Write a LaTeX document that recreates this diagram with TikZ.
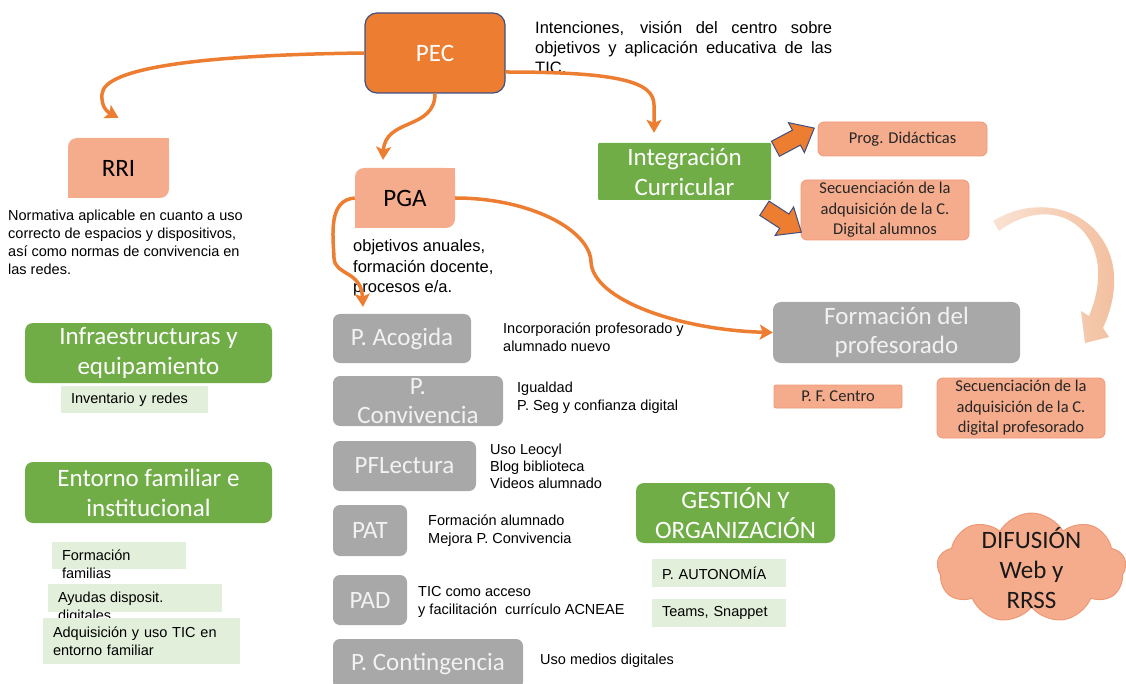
\documentclass[tikz,border=0pt]{standalone}
\usepackage{fontspec}
\setmainfont{Liberation Sans}
\newfontfamily\calib{Carlito}
\usetikzlibrary{arrows.meta,shapes.symbols,shapes.arrows,calc}
\definecolor{pecorange}{RGB}{237,125,49}
\definecolor{pecedge}{RGB}{62,80,130}
\definecolor{boxgreen}{RGB}{112,173,71}
\definecolor{lightgreen}{RGB}{226,239,218}
\definecolor{boxgray}{RGB}{168,168,168}
\definecolor{graytext}{RGB}{242,242,242}
\definecolor{salmon}{RGB}{245,172,140}
\definecolor{salmonedge}{RGB}{238,152,118}
\definecolor{peach}{RGB}{241,183,146}
\tikzstyle{pecbox} = [rounded corners=12pt, fill=pecorange, draw=pecedge, line width=1.2pt, text=white, font=\calib\fontsize{25}{30}\selectfont, minimum width=140pt, minimum height=80pt]
\tikzstyle{salbig} = [fill=salmon, rounded corners=9pt, font=\calib\fontsize{25}{30}\selectfont, minimum width=100pt, minimum height=60pt, inner sep=0pt]
\tikzstyle{salsmall} = [fill=salmon, draw=salmonedge, line width=0.8pt, rounded corners=6pt, font=\calib\fontsize{16.5}{20.5}\selectfont, text=black!85, align=center, inner sep=0pt]
\tikzstyle{greenbox} = [fill=boxgreen, rounded corners=8pt, text=white, font=\calib\fontsize{25}{30}\selectfont, align=center, inner sep=0pt]
\tikzstyle{graybox} = [fill=boxgray, rounded corners=7pt, text=graytext, font=\calib\fontsize{25}{29}\selectfont, align=center, inner sep=0pt]
\tikzstyle{lgbox} = [fill=lightgreen, font=\fontsize{14.5}{18}\selectfont, inner xsep=10pt, inner ysep=0pt, align=left]
\tikzstyle{note} = [font=\fontsize{14.5}{18}\selectfont, align=left, inner sep=0pt, anchor=west]
\tikzstyle{link} = [line width=3.5pt, draw=pecorange, -{Stealth[length=13pt,width=15pt,inset=3pt]}]
\tikzstyle{blockarrow} = [single arrow, fill=pecorange, draw=pecedge, line width=1pt, single arrow head extend=8.5pt, single arrow tip angle=80, minimum height=44pt, inner sep=0pt, anchor=tail]

\begin{document}
\begin{tikzpicture}[x=1pt,y=-1pt]
\useasboundingbox (0,0) rectangle (1126,684);
%
\node (pec) [pecbox] at (435,53) {PEC};
\node (pecnote) [note, text width=297pt, align=justify, font=\fontsize{16.5}{20}\selectfont] at (535,48) {Intenciones, visión del centro sobre\linebreak objetivos y aplicación educativa de las\linebreak TIC.};
%
\node (rri) [salbig, minimum width=101pt] at (118.5,168) {RRI};
\fill [salmon] (rri.north east) rectangle ++(-10pt,-10pt);
\fill [salmon] (rri.south west) rectangle ++(10pt,10pt);
\node (rrinote) [note] at (8,242.5) {Normativa aplicable en cuanto a uso\\correcto de espacios y dispositivos,\\así como normas de convivencia en\\las redes.};
\node (pga) [salbig] at (405,198) {PGA};
\fill [salmon] (pga.north east) rectangle ++(-10pt,-10pt);
\fill [salmon] (pga.south west) rectangle ++(10pt,10pt);
\node (pganote) [note, font=\fontsize{16.5}{20.5}\selectfont] at (353,268) {objetivos anuales,\\formación docente,\\procesos e/a.};
%
\node (integ) [greenbox, rounded corners=1pt, minimum width=173pt, minimum height=57pt] at (684.5,171.5) {Integración\\Curricular};
\node (prog) [salsmall, minimum width=169pt, minimum height=34pt] at (902.5,139) {Prog. Didácticas};
\node (seca) [salsmall, minimum width=168pt, minimum height=60pt] at (885,210) {Secuenciación de la\\adquisición de la C.\\Digital alumnos};
\node (ba1) [blockarrow, rotate=28] at (775,149) {\rule{0pt}{16pt}};
\node (ba2) [blockarrow, rotate=-33] at (764,208) {\rule{0pt}{16pt}};
%
\node (formp) [graybox, rounded corners=8pt, minimum width=247pt, minimum height=61pt] at (896.5,332.5) {Formación del\\profesorado};
\node (pfc) [salsmall, rounded corners=2pt, minimum width=128pt, minimum height=23pt] at (838,396.5) {P. F. Centro};
\node (secp) [salsmall, minimum width=168pt, minimum height=60pt] at (1021,408) {Secuenciación de la\\adquisición de la C.\\digital profesorado};
\shade [left color=peach!40, right color=peach] (993,221) .. controls (1060,180) and (1145,235) .. (1103,328) -- (1109,337) -- (1085,343) -- (1081,311) -- (1089,316) .. controls (1122,238) and (1060,186) .. (999,231) -- cycle;
%
\node (gestion) [greenbox, minimum width=199pt, minimum height=60pt] at (735.5,513) {GESTIÓN Y\\ORGANIZACIÓN};
\node (auton) [lgbox, text width=114pt, minimum height=28pt] at (719,573) {P. AUTONOMÍA};
\node (teams) [lgbox, text width=114pt, minimum height=28pt] at (719,613) {Teams, Snappet};
\node (difu) [cloud, cloud puffs=9, cloud puff arc=120, fill=salmon, draw=salmonedge, line width=1pt, minimum width=189pt, minimum height=110pt] at (1031.5,568) {};
\node (difutxt) [font=\calib\fontsize{25}{30}\selectfont, align=center, text=black!90] at (difu.center) {DIFUSIÓN\\Web y\\RRSS};
%
\node (infra) [greenbox, minimum width=247pt, minimum height=60pt] at (148.5,353) {Infraestructuras y\\equipamiento};
\node (inv) [lgbox, text width=127pt, minimum height=27pt] at (134.5,399.5) {Inventario y redes};
\node (entorno) [greenbox, minimum width=247pt, minimum height=61pt] at (148.5,492.5) {Entorno familiar e\\institucional};
\node (famb) [lgbox, minimum width=134pt, minimum height=27pt] at (119,555.5) {};
\node (famt) [note] at ([shift={(10pt,-9pt)}]famb.west) {Formación\\familias};
\node (ayub) [lgbox, minimum width=174pt, minimum height=28pt] at (135,598) {};
\node (ayut) [note] at ([shift={(10pt,-10pt)}]ayub.west) {Ayudas disposit.\\digitales};
\node (adq) [lgbox, text width=177pt, minimum height=46pt] at (141.5,641) {Adquisición y uso TIC en\\entorno familiar};
%
\node (acog) [graybox, minimum width=138pt, minimum height=49pt] at (402,338.5) {P. Acogida};
\node (conv) [graybox, minimum width=170pt, minimum height=50pt] at (418,401) {P.\\Convivencia};
\node (pfl) [graybox, minimum width=143pt, minimum height=50pt] at (404.5,466) {PFLectura};
\node (pat) [graybox, minimum width=74pt, minimum height=51pt] at (370,530.5) {PAT};
\node (pad) [graybox, minimum width=74pt, minimum height=50pt] at (370,600) {PAD};
\node (cont) [graybox, minimum width=190pt, minimum height=50pt] at (428,664) {P. Contingencia};
\node (acogtxt) [note] at (503,337) {Incorporación profesorado y\\alumnado nuevo};
\node (convtxt) [note] at (517,397.5) {Igualdad\\P. Seg y confianza digital};
\node (pfltxt) [note, font=\fontsize{14.5}{17}\selectfont] at (490,466.5) {Uso Leocyl\\Blog biblioteca\\Videos alumnado};
\node (pattxt) [note] at (428,530.5) {Formación alumnado\\Mejora P. Convivencia};
\node (padtxt) [note] at (418,601.5) {TIC como acceso\\y facilitación\ \ currículo ACNEAE};
\node (conttxt) [note] at (540,661) {Uso medios digitales};
%
\draw [link] (pec.west) .. controls (200,55) and (104,68) .. (102,94) .. controls (101,108) and (108,112) .. ([shift={(0pt,20pt)}]rri.north);
\draw [link] (pec.south) .. controls (435,130) and (385,118) .. ([shift={(-22pt,8pt)}]pga.north);
\draw [link] ([yshift=-19pt]pec.east) .. controls (620,72) and (654,82) .. (654,105) -- ([shift={(-30.5pt,10pt)}]integ.north);
\draw [link] (pga.east) .. controls (530,198) and (590,230) .. (591,262) .. controls (593,300) and (680,330) .. (formp.west);
\draw [link] (pga.west) .. controls (328,200) and (333,235) .. (334,258) .. controls (335,276) and (361,270) .. ([shift={(-39pt,7pt)}]acog.north);
\end{tikzpicture}
\end{document}
